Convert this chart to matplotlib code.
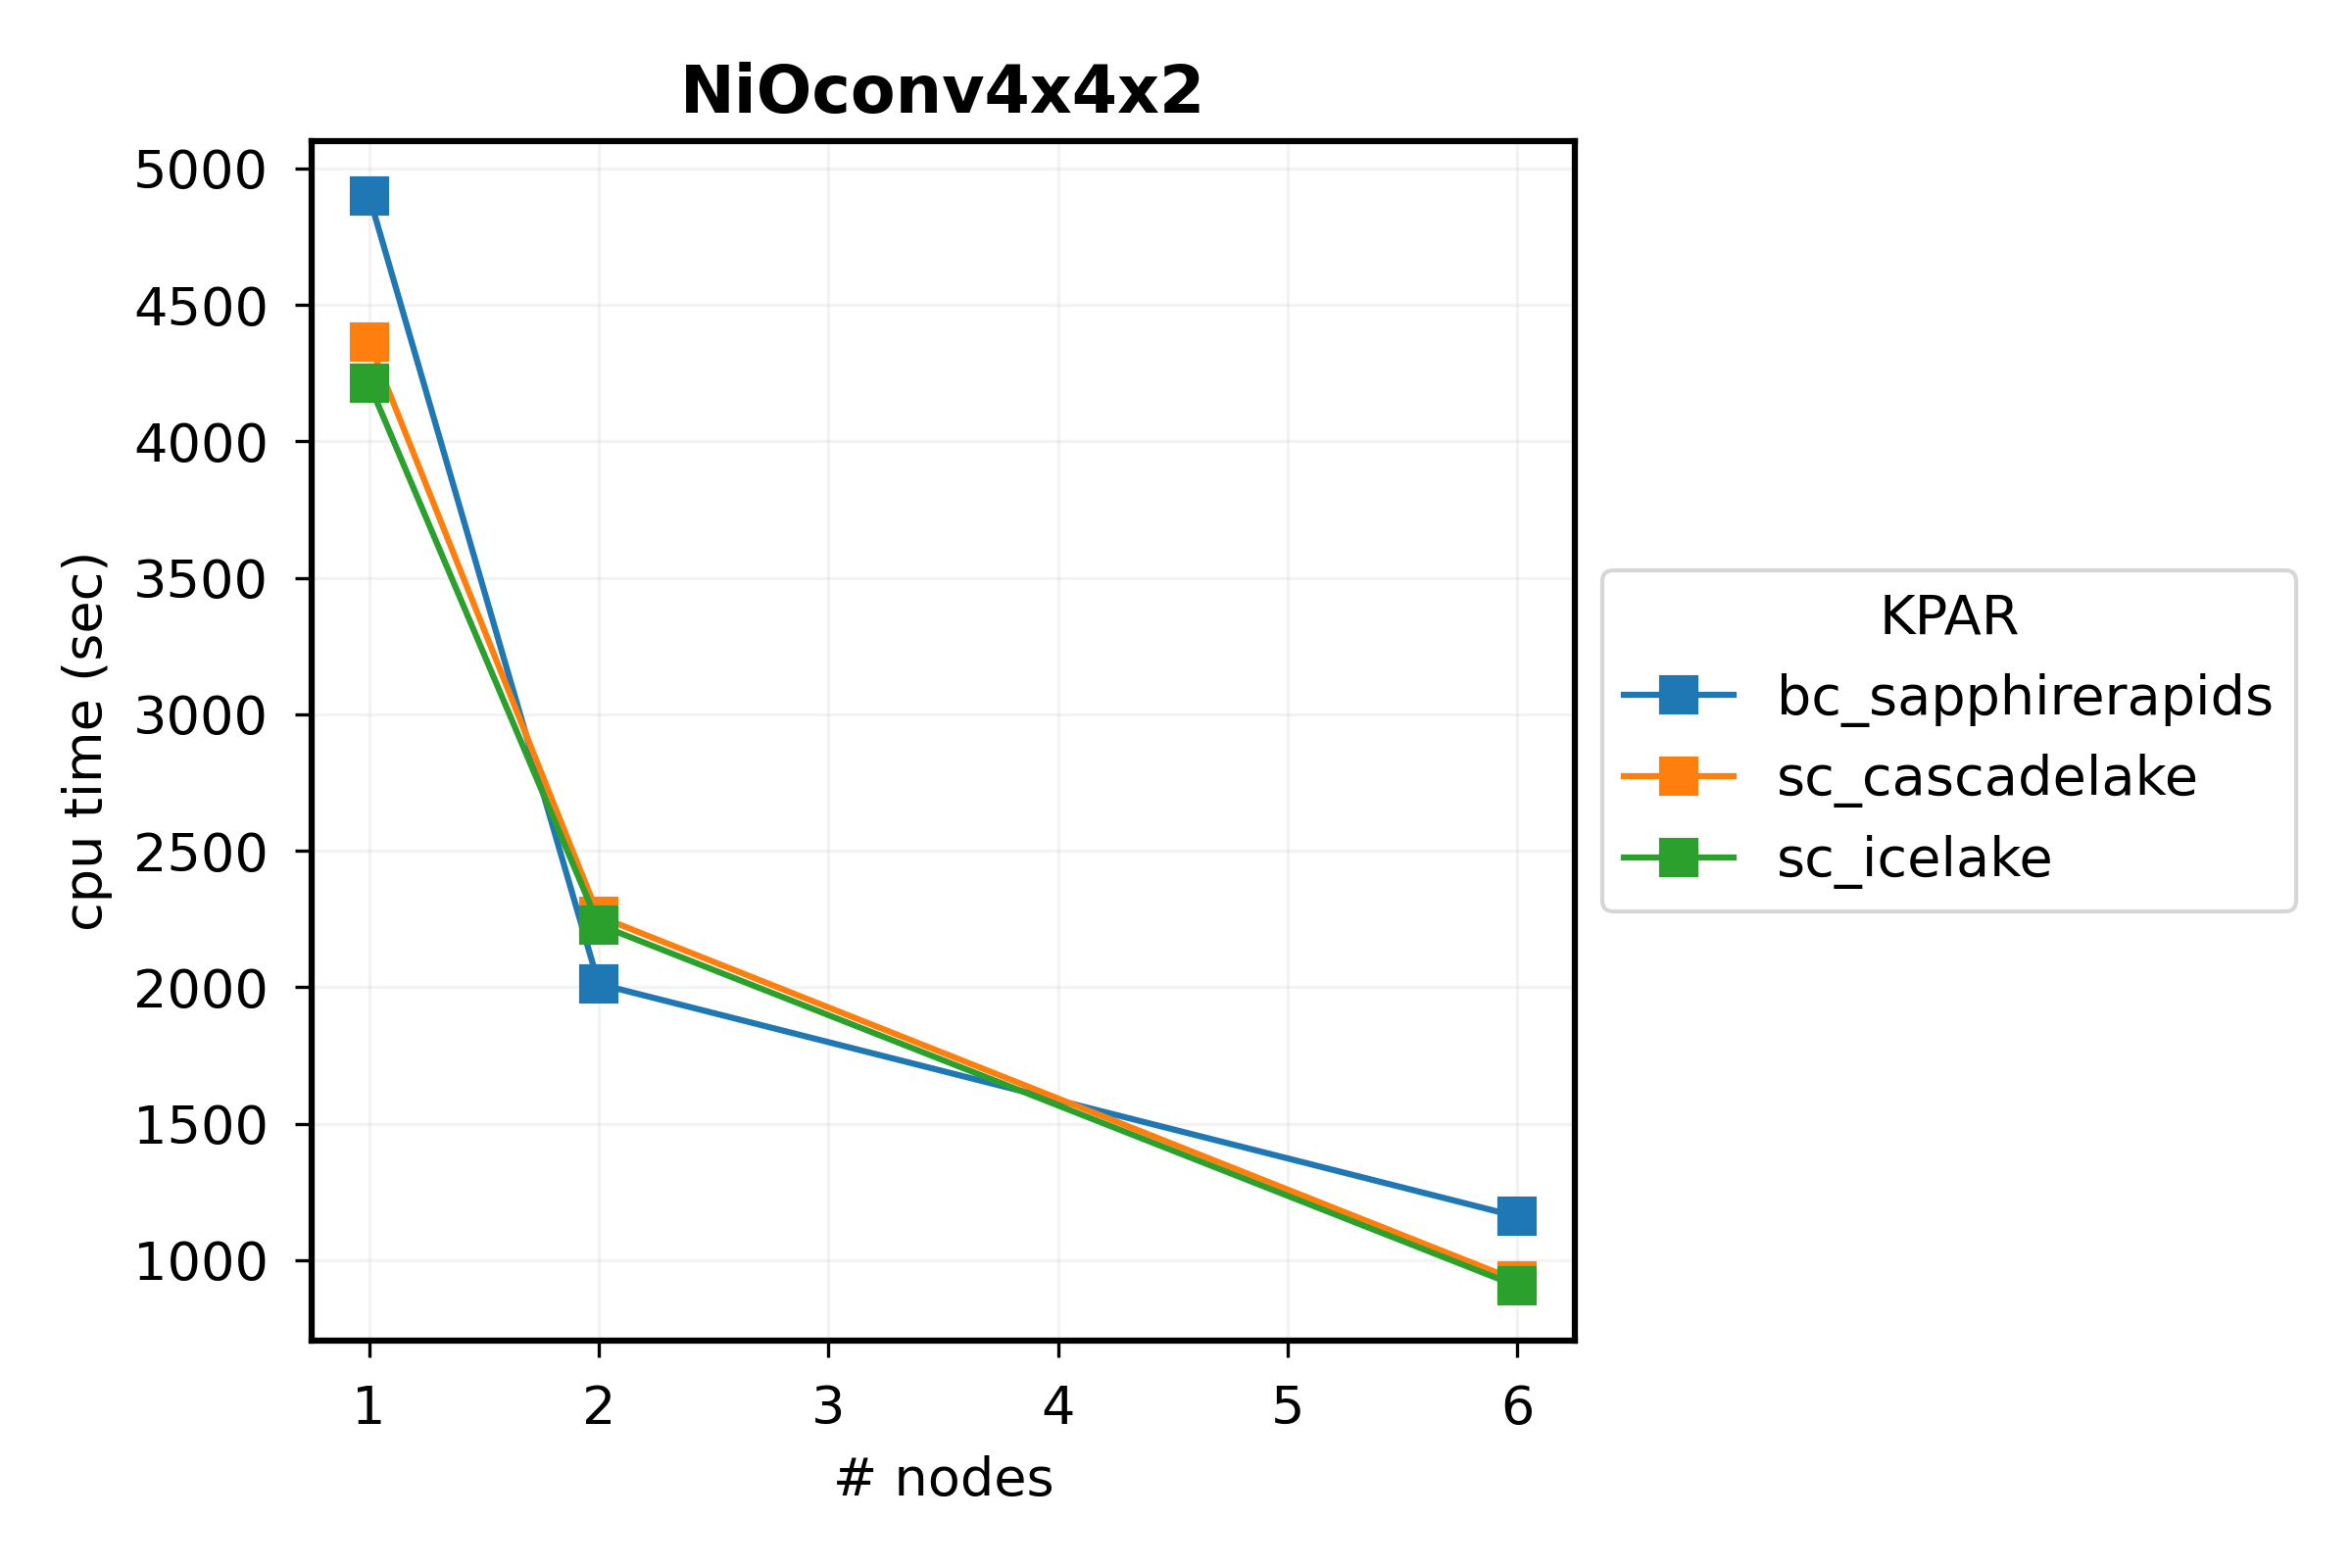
import matplotlib
matplotlib.use("Agg")
import matplotlib.pyplot as plt

nodes = [1, 2, 6]
bc_sapphirerapids = [4900, 2012, 1160]
sc_cascadelake = [4364, 2260, 925]
sc_icelake = [4213, 2229, 905]

series = {
    "bc_sapphirerapids": bc_sapphirerapids,
    "sc_cascadelake": sc_cascadelake,
    "sc_icelake": sc_icelake,
}

fig = plt.figure(figsize=(8, 16 / 3), dpi=300)
ax = fig.add_axes([0.1325, 0.145, 0.537, 0.765])

for name, vals in series.items():
    ax.plot(nodes, vals, marker="s", markersize=8.5, linewidth=1.5, label=name)

ax.set_title("NiOconv4x4x2", fontsize=16, fontweight="bold", pad=7)
ax.set_xlabel("# nodes", fontsize=13, labelpad=5)
ax.set_ylabel("cpu time (sec)", fontsize=13, labelpad=5)
ax.tick_params(labelsize=13, length=4, pad=6.5)
ax.set_xticks([1, 2, 3, 4, 5, 6])
ax.set_yticks([1000, 1500, 2000, 2500, 3000, 3500, 4000, 4500, 5000])
ax.grid(True, alpha=0.15)
for s in ax.spines.values():
    s.set_linewidth(1.5)

ax.legend(title="KPAR", loc="center left", bbox_to_anchor=(1.0, 0.5),
          fontsize=13.4, title_fontsize=13.4)

fig.savefig("out.png", dpi=300)
